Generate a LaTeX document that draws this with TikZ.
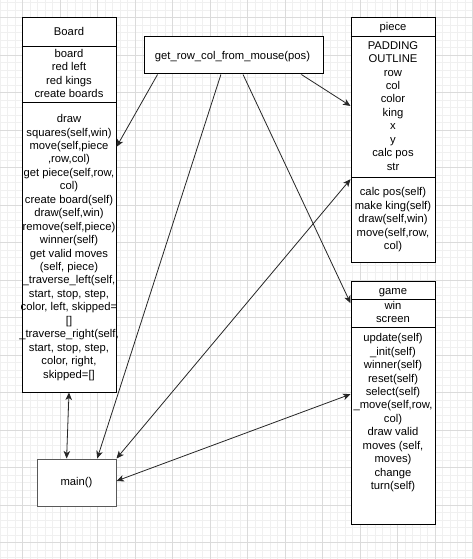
\documentclass[tikz,border=0pt]{standalone}
\usepackage{fontspec}
\setmainfont{Liberation Sans}
\usetikzlibrary{calc,arrows.meta}
\begin{document}
\begin{tikzpicture}[x=1pt,y=-1pt,
  minorgrid/.style={draw=black!6, line width=0.8pt},
  majorgrid/.style={draw=black!14, line width=0.8pt},
  box/.style={draw=black, line width=1pt, fill=white, rectangle, inner sep=0pt},
  sep/.style={draw=black, line width=1pt},
  txt/.style={font=\fontsize{11.25}{13.45}\selectfont, align=center, inner sep=0pt,
              execute at begin node=\strut, execute at end node=\strut},
  conn/.style={draw=black!85, line width=0.8pt},
  onetip/.style={-{Stealth[length=7.5pt,width=6.5pt,inset=2pt]}},
  twotip/.style={{Stealth[length=7.5pt,width=6.5pt,inset=2pt]}-{Stealth[length=7.5pt,width=6.5pt,inset=2pt]}}
]
\useasboundingbox (0,0) rectangle (472,559);
\fill[white] (0,0) rectangle (472,559);
% grid
\foreach \i in {0,...,62} \draw[minorgrid] ({0.2+7.5*\i},0) -- ({0.2+7.5*\i},559);
\foreach \i in {0,...,74} \draw[minorgrid] (0,{2.5+7.5*\i}) -- (472,{2.5+7.5*\i});
\foreach \i in {0,...,12} \draw[majorgrid] ({22.7+37.5*\i},0) -- ({22.7+37.5*\i},559);
\foreach \i in {0,...,14} \draw[majorgrid] (0,{17.5+37.5*\i}) -- (472,{17.5+37.5*\i});

% boxes
\node[box, minimum width=94pt, minimum height=374pt] (board) at (69,205) {};
\node[box, minimum width=179pt, minimum height=37pt] (mouse) at (233.5,55.5) {};
\node[box, minimum width=84pt, minimum height=244pt] (piece) at (393,140) {};
\node[box, minimum width=84pt, minimum height=243pt] (game) at (393,402.5) {};
\node[box, draw=black!65, line width=1pt, minimum width=79pt, minimum height=47pt] (main) at (76.5,482.5) {};

% separators
\draw[sep] (board.west |- 0,46.3) -- (board.east |- 0,46.3);
\draw[sep] (board.west |- 0,102.3) -- (board.east |- 0,102.3);
\draw[sep] (piece.west |- 0,36.7) -- (piece.east |- 0,36.7);
\draw[sep] (piece.west |- 0,177.7) -- (piece.east |- 0,177.7);
\draw[sep] (game.west |- 0,299.3) -- (game.east |- 0,299.3);
\draw[sep] (game.west |- 0,327.3) -- (game.east |- 0,327.3);

% texts
\node[txt] (boardhead) at (69,33.1) {Board};
\node[txt] (boardattr) at (69,75.5) {board\\ red left\\ red kings\\ create boards};
\node[txt] (boardmeth) at (69,248.3) {draw\\ squares(self,win)\\ move(self,piece\\ ,row,col)\\ get piece(self,row,\\ col)\\ create board(self)\\ draw(self,win)\\ remove(self,piece)\\ winner(self)\\ get valid moves\\ (self, piece)\\ \_traverse\_left(self,\\ start, stop, step,\\ color, left, skipped=\\ {[]}\\ \_traverse\_right(self,\\ start, stop, step,\\ color, right,\\ skipped={[]}};
\node[txt] (mousetext) at (232.5,56.8) {get\_row\_col\_from\_mouse(pos)};
\node[txt] (piecehead) at (393,28.1) {piece};
\node[txt] (pieceattr) at (393,107.8) {PADDING\\ OUTLINE\\ row\\ col\\ color\\ king\\ x\\ y\\ calc pos\\ str};
\node[txt] (piecemeth) at (393,220.5) {calc pos(self)\\ make king(self)\\ draw(self,win)\\ move(self,row,\\ col)};
\node[txt] (gamehead) at (393,291.5) {game};
\node[txt] (gameattr) at (393,314.2) {win\\ screen};
\node[txt] (gamemeth) at (393,413.6) {update(self)\\ \_init(self)\\ winner(self)\\ reset(self)\\ select(self)\\ \_move(self,row,\\ col)\\ draw valid\\ moves (self,\\ moves)\\ change\\ turn(self)};
\node[txt] (maintext) at (76.5,482.5) {main()};

% connectors
\draw[conn,onetip] ($(mouse.south west)!0.078!(mouse.south east)$) -- ($(board.north east)!0.345!(board.south east)$);
\draw[conn,onetip] ($(mouse.south west)!0.430!(mouse.south east)$) -- ($(main.north west)!0.759!(main.north east)$);
\draw[conn,onetip] ($(mouse.south west)!0.553!(mouse.south east)$) -- ($(game.north west)!0.093!(game.south west)$);
\draw[conn,onetip] ($(mouse.south west)!0.877!(mouse.south east)$) -- ($(piece.north west)!0.361!(piece.south west)$);
\draw[conn,twotip] (main.north east) -- ($(piece.north west)!0.66!(piece.south west)$);
\draw[conn,twotip] ($(main.north east)!0.468!(main.south east)$) -- ($(game.north west)!0.466!(game.south west)$);
\draw[conn,twotip] (board.south) -- ($(main.north west)!0.376!(main.north east)$);
\end{tikzpicture}
\end{document}
